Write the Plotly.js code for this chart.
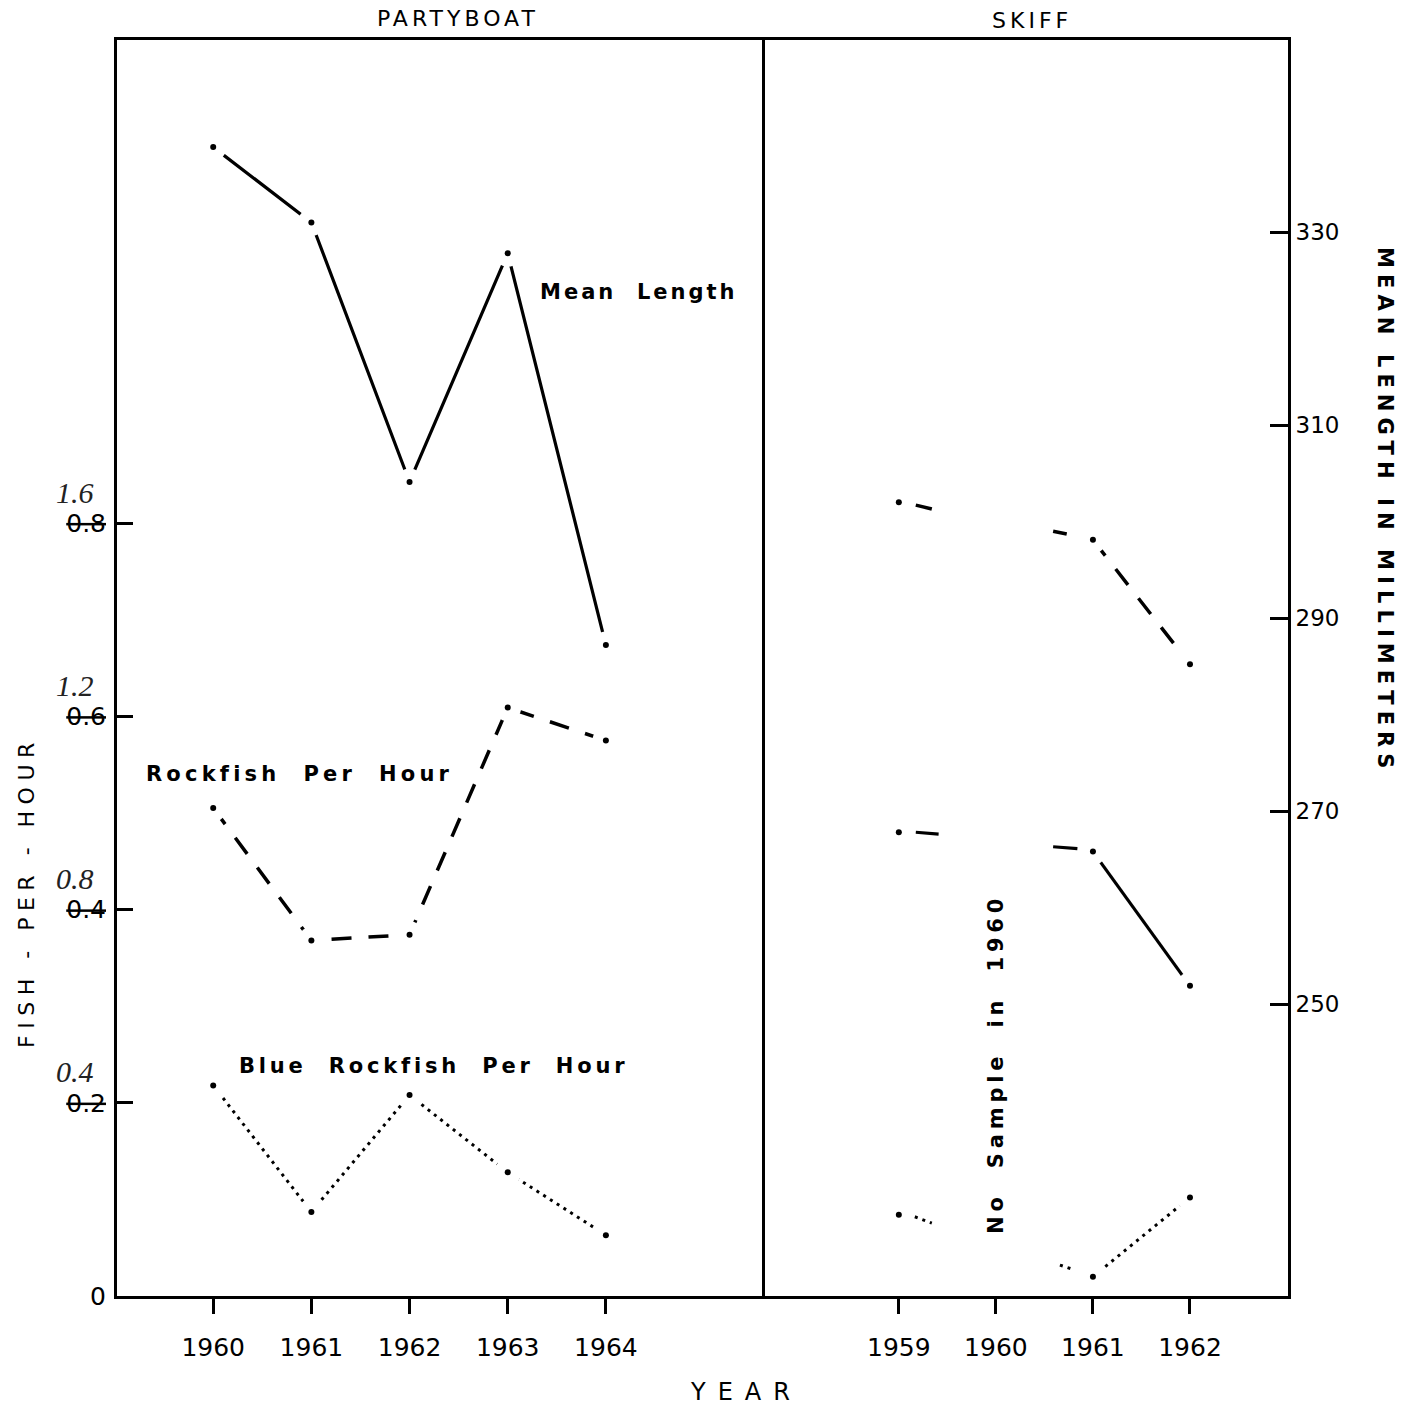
<!DOCTYPE html>
<html>
<head>
<meta charset="utf-8">
<script src="https://cdn.plot.ly/plotly-3.0.1.min.js"></script>
<style>
  html, body { margin: 0; padding: 0; background: #fff; }
  #chart { width: 1413px; height: 1409px; }
</style>
</head>
<body>
<div id="chart"></div>
<script>
// ---- Partyboat catch, 1960-1964 ----
const partyYears = [1960, 1961, 1962, 1963, 1964];
const partyMeanLength = [338.8, 331.0, 304.1, 327.8, 287.2];      // mm (right axis)
const partyRockfishPerHour = [0.505, 0.368, 0.374, 0.609, 0.575];  // fish/hr (left axis)
const partyBluePerHour = [0.218, 0.087, 0.208, 0.128, 0.063];      // fish/hr (left axis)

// ---- Skiff catch, 1959-1962 (no sample in 1960) ----
const skiffYears = [1959, 1961, 1962];
const skiffMeanLength = [302.0, 298.1, 285.2];
const skiffRockfishPerHour = [0.480, 0.460, 0.321];
const skiffBluePerHour = [0.084, 0.020, 0.102];

// short trend stubs drawn on either side of the missing 1960 sample
const lenStubX = [1959.175, 1959.34, null, 1960.59, 1960.73];
const lenStubY = [301.7, 301.3, null, 299.0, 298.7];
const rockStubX = [1959.175, 1959.41, null, 1960.59, 1960.84];
const rockStubY = [0.480, 0.478, null, 0.465, 0.463];
const blueStubX = [1959.165, 1959.34, null, 1960.66, 1960.81];
const blueStubY = [0.082, 0.0755, null, 0.032, 0.027];

// axis ticks
const partyTickYears = [1960, 1961, 1962, 1963, 1964];
const skiffTickYears = [1959, 1960, 1961, 1962];
const fishTicks = [0, 0.2, 0.4, 0.6, 0.8];
const fishTickText = ['0', '0.2', '0.4', '0.6', '0.8'];
const fishHandTicks = [0.2, 0.4, 0.6, 0.8];
const fishHandText = ['0.4', '0.8', '1.2', '1.6'];
const lengthTicks = [250, 270, 290, 310, 330];

const FONT = 'DejaVu Sans, Liberation Sans, sans-serif';
const INK = '#000';
const spaced = (t, px) => `<span style="letter-spacing:${px}px">${t}</span>`;
const struck = t => `<span style="text-decoration:line-through">${t}</span>`;

function line(x, y, xa, ya, dash, width) {
  return { x, y, xaxis: xa, yaxis: ya, mode: 'lines', type: 'scatter',
           line: { color: INK, width: width || 3, dash: dash || 'solid' },
           hoverinfo: 'skip', showlegend: false };
}
// a white halo around each sampled year leaves the open gap around the dot
function halo(x, y, xa, ya) {
  return { x, y, xaxis: xa, yaxis: ya, mode: 'markers', type: 'scatter',
           marker: { color: '#fff', size: 27, line: { width: 0 } },
           hoverinfo: 'skip', showlegend: false };
}
function dots(x, y, xa, ya) {
  return { x, y, xaxis: xa, yaxis: ya, mode: 'markers', type: 'scatter',
           marker: { color: INK, size: 6, line: { width: 0 } },
           hoverinfo: 'skip', showlegend: false };
}

const DASH = '20px,17px';
const DOT = '3px,5px';

const data = [
  // partyboat
  line(partyYears, partyRockfishPerHour, 'x', 'y', DASH, 3.5),
  line(partyYears, partyBluePerHour, 'x', 'y', DOT, 3),
  halo(partyYears, partyRockfishPerHour, 'x', 'y'),
  halo(partyYears, partyBluePerHour, 'x', 'y'),
  dots(partyYears, partyRockfishPerHour, 'x', 'y'),
  dots(partyYears, partyBluePerHour, 'x', 'y'),
  line(partyYears, partyMeanLength, 'x', 'y2', 'solid', 3.2),
  halo(partyYears, partyMeanLength, 'x', 'y2'),
  dots(partyYears, partyMeanLength, 'x', 'y2'),
  // skiff
  line(skiffYears.slice(1), skiffRockfishPerHour.slice(1), 'x2', 'y', 'solid', 3.2),
  line(skiffYears.slice(1), skiffBluePerHour.slice(1), 'x2', 'y', DOT, 3),
  halo(skiffYears, skiffRockfishPerHour, 'x2', 'y'),
  halo(skiffYears, skiffBluePerHour, 'x2', 'y'),
  line(rockStubX, rockStubY, 'x2', 'y', 'solid', 3.2),
  line(blueStubX, blueStubY, 'x2', 'y', DOT, 3),
  dots(skiffYears, skiffRockfishPerHour, 'x2', 'y'),
  dots(skiffYears, skiffBluePerHour, 'x2', 'y'),
  line(skiffYears.slice(1), skiffMeanLength.slice(1), 'x2', 'y2', DASH, 3.5),
  halo(skiffYears, skiffMeanLength, 'x2', 'y2'),
  line(lenStubX, lenStubY, 'x2', 'y2', 'solid', 3.5),
  dots(skiffYears, skiffMeanLength, 'x2', 'y2')
];

const split = 0.5508;
const xCommon = {
  anchor: 'y', showgrid: false, zeroline: false,
  showline: true, linecolor: INK, linewidth: 3, mirror: true,
  ticks: 'outside', ticklen: 15, tickwidth: 3, tickcolor: INK,
  ticklabelstandoff: 12,
  tickfont: { family: FONT, size: 25, color: INK }
};

const annotations = [
  { text: spaced('PARTYBOAT', 4), xref: 'paper', yref: 'paper', x: 0.2912, y: 1.0175, size: 22 },
  { text: spaced('SKIFF', 4), xref: 'paper', yref: 'paper', x: 0.7814, y: 1.0159, size: 22 },
  { text: spaced('YEAR', 12), xref: 'paper', yref: 'paper', x: 0.537, y: -0.0764, size: 24 },
  { text: spaced('FISH - PER - HOUR', 6.5), xref: 'paper', yref: 'paper',
    x: -0.0769, y: 0.3217, textangle: -90, size: 22 },
  { text: '<b>' + spaced('MEAN LENGTH IN MILLIMETERS', 6.1) + '</b>', xref: 'paper', yref: 'paper',
    x: 1.0828, y: 0.625, textangle: 90, size: 21 },
  { text: '<b>' + spaced('Mean  Length', 3) + '</b>', xref: 'x', yref: 'y2', x: 1964.33, y: 323.8 },
  { text: '<b>' + spaced('Rockfish  Per  Hour', 4.2) + '</b>', xref: 'x', yref: 'y', x: 1960.88, y: 0.540 },
  { text: '<b>' + spaced('Blue  Rockfish  Per  Hour', 3.8) + '</b>', xref: 'x', yref: 'y', x: 1962.24, y: 0.238 },
  { text: '<b>' + spaced('No  Sample  in  1960', 4.8) + '</b>', xref: 'x2', yref: 'y', x: 1960, y: 0.24, textangle: -90 }
].map(a => {
  const size = a.size || 21;
  delete a.size;
  return Object.assign({ showarrow: false, xanchor: 'center', yanchor: 'middle',
                         font: { family: FONT, size, color: INK } }, a);
});

// pencilled-in corrected scale beside the struck-through printed values
fishHandTicks.forEach((v, i) => {
  annotations.push({
    text: '<i>' + fishHandText[i] + '</i>', xref: 'paper', yref: 'y',
    x: -0.036, y: v, yshift: 31, showarrow: false, xanchor: 'center', yanchor: 'middle',
    font: { family: 'Liberation Serif, DejaVu Serif, serif', size: 30, color: '#222' }
  });
});

const layout = {
  width: 1413, height: 1409,
  margin: { l: 117, r: 125, t: 40, b: 113, pad: 0 },
  paper_bgcolor: '#fff', plot_bgcolor: '#fff',
  showlegend: false,
  xaxis: Object.assign({}, xCommon, {
    domain: [0, split], range: [1959.02, 1965.59],
    tickmode: 'array', tickvals: partyTickYears, ticktext: partyTickYears.map(String)
  }),
  xaxis2: Object.assign({}, xCommon, {
    domain: [split, 1], range: [1957.59, 1963.01],
    tickmode: 'array', tickvals: skiffTickYears, ticktext: skiffTickYears.map(String)
  }),
  yaxis: {
    anchor: 'x', side: 'left', range: [0, 1.3],
    showgrid: false, zeroline: false,
    showline: true, linecolor: INK, linewidth: 3, mirror: true,
    ticks: 'inside', ticklen: 16, tickwidth: 3, tickcolor: INK,
    ticklabelstandoff: 3,
    tickmode: 'array', tickvals: fishTicks,
    ticktext: fishTickText.map((t, i) => i === 0 ? t : struck(t)),
    tickfont: { family: FONT, size: 25, color: INK }
  },
  yaxis2: {
    anchor: 'x2', overlaying: 'y', side: 'right', range: [219.74, 349.9],
    showgrid: false, zeroline: false,
    showline: true, linecolor: INK, linewidth: 3,
    ticks: 'inside', ticklen: 18, tickwidth: 3, tickcolor: INK,
    tickmode: 'array', tickvals: lengthTicks, ticktext: lengthTicks.map(String),
    tickfont: { family: FONT, size: 23, color: INK }
  },
  annotations
};

Plotly.newPlot('chart', data, layout, { staticPlot: true, displayModeBar: false });
</script>
</body>
</html>
